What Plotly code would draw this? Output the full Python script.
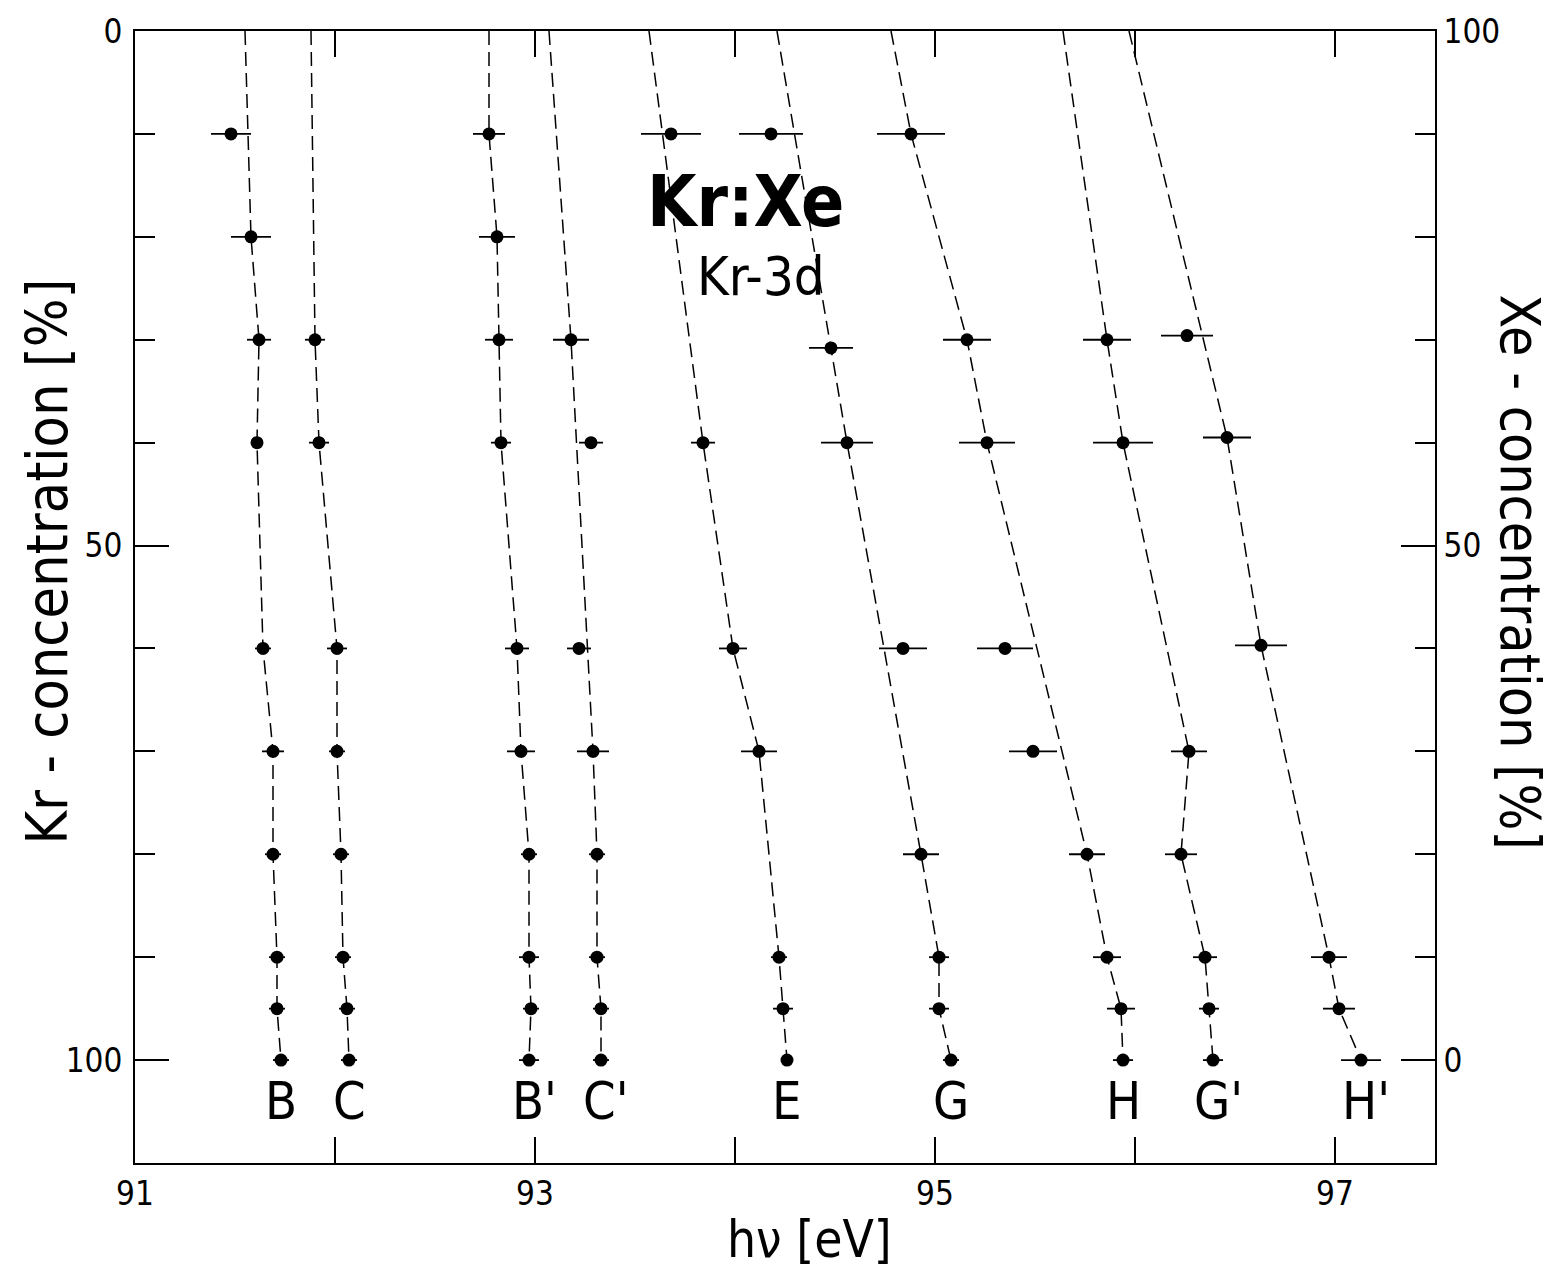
import plotly.graph_objects as go

# ---- data: peak positions hv [eV] vs Kr concentration [%] in Kr:Xe films ----
series_names = ["B", "C", "B'", "C'", "E", "G", "H", "G'", "H'"]

B_conc = [10, 20, 30, 40, 60, 70, 80, 90, 95, 100]
B_ev = [91.48, 91.58, 91.62, 91.61, 91.64, 91.69, 91.69, 91.71, 91.71, 91.73]
B_err = [0.10, 0.10, 0.06, 0.03, 0.04, 0.055, 0.04, 0.04, 0.04, 0.04]

C_conc = [30, 40, 60, 70, 80, 90, 95, 100]
C_ev = [91.90, 91.92, 92.01, 92.01, 92.03, 92.04, 92.06, 92.07]
C_err = [0.05, 0.05, 0.05, 0.04, 0.04, 0.04, 0.04, 0.04]

Bp_conc = [10, 20, 30, 40, 60, 70, 80, 90, 95, 100]
Bp_ev = [92.77, 92.81, 92.82, 92.83, 92.91, 92.93, 92.97, 92.97, 92.98, 92.97]
Bp_err = [0.08, 0.09, 0.07, 0.05, 0.06, 0.07, 0.04, 0.05, 0.04, 0.05]

Cp_conc = [30, 40, 60, 70, 80, 90, 95, 100]
Cp_ev = [93.18, 93.28, 93.22, 93.29, 93.31, 93.31, 93.33, 93.33]
Cp_err = [0.09, 0.06, 0.06, 0.08, 0.04, 0.04, 0.04, 0.04]

E_conc = [10, 40, 60, 70, 90, 95, 100]
E_ev = [93.68, 93.84, 93.99, 94.12, 94.22, 94.24, 94.26]
E_err = [0.15, 0.06, 0.07, 0.09, 0.04, 0.05, 0.03]

G_conc = [10, 30.8, 40, 60, 80, 90, 95, 100]
G_ev = [94.18, 94.48, 94.56, 94.84, 94.93, 95.02, 95.02, 95.08]
G_err = [0.16, 0.11, 0.13, 0.12, 0.09, 0.05, 0.05, 0.04]

H_conc = [10, 30, 40, 60, 70, 80, 90, 95, 100]
H_ev = [94.88, 95.16, 95.26, 95.35, 95.49, 95.76, 95.86, 95.93, 95.94]
H_err = [0.17, 0.12, 0.14, 0.14, 0.12, 0.09, 0.07, 0.07, 0.05]

Gp_conc = [30, 40, 70, 80, 90, 95, 100]
Gp_ev = [95.86, 95.94, 96.27, 96.23, 96.35, 96.37, 96.39]
Gp_err = [0.12, 0.15, 0.09, 0.08, 0.06, 0.05, 0.05]

Hp_conc = [29.6, 39.5, 59.7, 90, 95, 100]
Hp_ev = [96.26, 96.46, 96.63, 96.97, 97.02, 97.13]
Hp_err = [0.13, 0.12, 0.13, 0.09, 0.08, 0.10]

# guide lines: position extrapolated to 0 % Kr, and points the guide passes by
guide_top_ev = [91.55, 91.88, 92.77, 93.07, 93.57, 94.21, 94.78, 95.64, 95.97]
off_guide = {
    "B": [10],
    "C'": [40, 60],
    "E": [10],
    "G": [10, 60],
    "H": [60, 70],
    "H'": [29.6],
}

x_ticks_major = [91, 93, 95, 97]

concs = [B_conc, C_conc, Bp_conc, Cp_conc, E_conc, G_conc, H_conc, Gp_conc, Hp_conc]
evs = [B_ev, C_ev, Bp_ev, Cp_ev, E_ev, G_ev, H_ev, Gp_ev, Hp_ev]
errs = [B_err, C_err, Bp_err, Cp_err, E_err, G_err, H_err, Gp_err, Hp_err]

FONT = "DejaVu Sans Condensed, Roboto, DejaVu Sans, sans-serif"

fig = go.Figure()

for name, c, e, err, top in zip(series_names, concs, evs, errs, guide_top_ev):
    skip = off_guide.get(name, [])
    gx = [top] + [ev for cc, ev in zip(c, e) if cc not in skip]
    gy = [0] + [cc for cc in c if cc not in skip]
    fig.add_trace(go.Scatter(
        x=gx, y=gy, mode="lines",
        line=dict(color="black", width=1.5, dash="14px,7px"),
        hoverinfo="skip", showlegend=False,
    ))
    fig.add_trace(go.Scatter(
        x=e, y=c, mode="markers", name=name,
        marker=dict(color="black", size=13),
        error_x=dict(type="data", array=err, symmetric=True,
                     color="black", thickness=1.8, width=0),
        showlegend=False,
    ))
    # structure label under the 100 % Kr point
    fig.add_annotation(
        x=e[-1], y=104, text=name, showarrow=False,
        xanchor="center", yanchor="middle",
        xshift=5 if "'" in name else 0,
        font=dict(family=FONT, size=52, color="black"),
    )

# keeps the Xe-concentration axis on the right drawn
fig.add_trace(go.Scatter(x=[None], y=[None], yaxis="y2", showlegend=False,
                         hoverinfo="skip"))

axis_common = dict(
    showline=True, linecolor="black", linewidth=2,
    ticks="inside", tickcolor="black", tickwidth=2,
    showgrid=False, zeroline=False,
    tickfont=dict(family=FONT, size=33, color="black"),
)

fig.update_layout(
    width=1561, height=1279, autosize=False,
    margin=dict(l=135, r=126, t=27, b=116),
    paper_bgcolor="white", plot_bgcolor="white",
    showlegend=False,
    xaxis=dict(
        range=[91, 97.5], tickmode="array", tickvals=x_ticks_major,
        ticklen=26, mirror="ticks", ticklabelstandoff=0,
        minor=dict(dtick=1, tick0=91, ticks="inside", ticklen=26,
                   tickwidth=2, tickcolor="black", showgrid=False),
        **axis_common,
    ),
    yaxis=dict(
        range=[110, 0], tickmode="linear", tick0=0, dtick=50,
        ticklen=34, ticklabelstandoff=4,
        minor=dict(dtick=10, tick0=0, ticks="inside", ticklen=20,
                   tickwidth=2, tickcolor="black", showgrid=False),
        **axis_common,
    ),
    yaxis2=dict(
        overlaying="y", side="right", anchor="x",
        range=[-10, 100], tickmode="linear", tick0=0, dtick=50,
        ticklen=34, ticklabelstandoff=0,
        minor=dict(dtick=10, tick0=0, ticks="inside", ticklen=20,
                   tickwidth=2, tickcolor="black", showgrid=False),
        **axis_common,
    ),
)

# axis titles and plot heading
fig.add_annotation(xref="paper", yref="paper", x=-0.068, y=0.531,
                   text="Kr - concentration [%]", textangle=-90, showarrow=False,
                   xanchor="center", yanchor="middle",
                   font=dict(family=FONT, size=57, color="black"))
fig.add_annotation(xref="paper", yref="paper", x=1.065, y=0.522,
                   text="Xe - concentration [%]", textangle=90, showarrow=False,
                   xanchor="center", yanchor="middle",
                   font=dict(family=FONT, size=55, color="black"))
fig.add_annotation(xref="paper", yref="paper", x=0.519, y=-0.068,
                   text="hν [eV]", showarrow=False,
                   xanchor="center", yanchor="middle",
                   font=dict(family=FONT, size=51, color="black"))
fig.add_annotation(x=94.05, y=16.6, text="<b>Kr:Xe</b>", showarrow=False,
                   xanchor="center", yanchor="middle",
                   font=dict(family=FONT, size=71, color="black"))
fig.add_annotation(x=94.13, y=23.9, text="Kr-3d", showarrow=False,
                   xanchor="center", yanchor="middle",
                   font=dict(family=FONT, size=54, color="black"))

fig.write_html("out.html")
